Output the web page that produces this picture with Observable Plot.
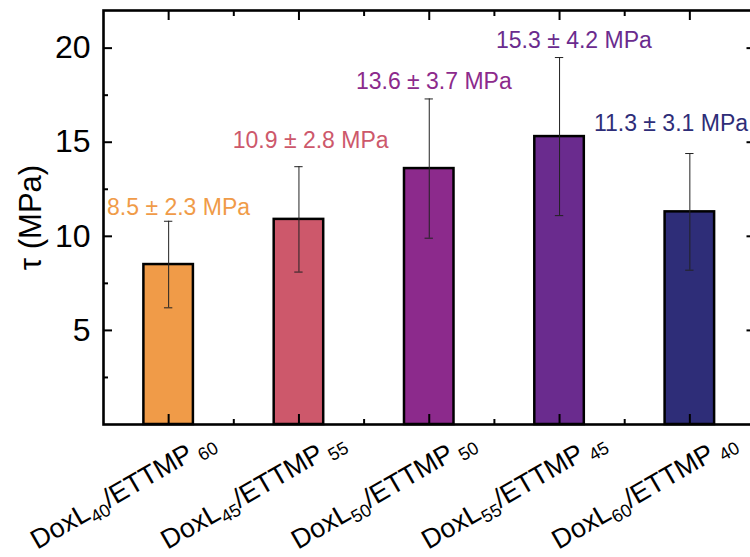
<!DOCTYPE html>
<html><head><meta charset="utf-8">
<script src="https://cdn.jsdelivr.net/npm/d3@7"></script>
<script src="https://cdn.jsdelivr.net/npm/@observablehq/plot@0.6"></script>
<style>html,body{margin:0;padding:0;background:#fff;overflow:hidden;}</style>
</head><body><div id="chart"></div>
<script>
// ---- data ----
const doxl = [40, 45, 50, 55, 60];
const ettmp = [60, 55, 50, 45, 40];
const tau = [8.5, 10.9, 13.6, 15.3, 11.3];
const sd = [2.3, 2.8, 3.7, 4.2, 3.1];
const colors = ["#F09B48", "#CD586B", "#8C2A8C", "#6A2B8E", "#2E2D78"];
const yTicks = [5, 10, 15, 20];
const yMinor = [2.5, 7.5, 12.5, 17.5];
const xTicks = [1, 2, 3, 4, 5];
const xMinor = [1.5, 2.5, 3.5, 4.5];

const data = tau.map((v, i) => ({
  idx: i + 1,
  cat: `DoxL${doxl[i]}/ETTMP${ettmp[i]}`,
  tau: v, sd: sd[i], color: colors[i],
  label: `${v.toFixed(1)} ± ${sd[i].toFixed(1)} MPa`
}));
// annotation anchors (x in category index units, y in MPa)
const annX = [1.076, 2.09, 3.035, 4.11, 4.855];
const annY = [11.5, 15.1, 18.2, 20.4, 16.0];
const ann = data.map((d, i) => ({...d, ax: annX[i], ay: annY[i]}));

const tk = {stroke: "black", strokeWidth: 2, fill: "none", label: null};
const font = "'Liberation Sans', Arial, Helvetica, sans-serif";

const plot = Plot.plot({
  width: 750, height: 557,
  marginLeft: 103, marginRight: -4.5, marginTop: 10, marginBottom: 133,
  style: {fontFamily: font, background: "white", color: "black"},
  x: {domain: [0.5, 5.5], axis: null},
  y: {domain: [0, 22], axis: null},
  color: {type: "identity"},
  marks: [
    Plot.rectY(data, {x1: d => d.idx - 0.19, x2: d => d.idx + 0.19, y1: 0, y2: "tau", fill: "color", stroke: "black", strokeWidth: 2.5}),
    Plot.ruleX(data, {x: "idx", y1: d => d.tau - d.sd, y2: d => d.tau + d.sd, stroke: "#222", strokeWidth: 1}),
    Plot.ruleY(data, {y: d => d.tau + d.sd, x1: d => d.idx - 0.032, x2: d => d.idx + 0.032, stroke: "#222", strokeWidth: 1}),
    Plot.ruleY(data, {y: d => d.tau - d.sd, x1: d => d.idx - 0.032, x2: d => d.idx + 0.032, stroke: "#222", strokeWidth: 1}),
    Plot.axisY(yTicks, {anchor: "left", tickSize: -9, ...tk}),
    Plot.axisY(yMinor, {anchor: "left", tickSize: -5, ...tk}),
    Plot.axisY(yTicks, {anchor: "right", tickSize: -9, ...tk}),
    Plot.axisY(yMinor, {anchor: "right", tickSize: -5, ...tk}),
    Plot.axisX(xTicks, {anchor: "bottom", tickSize: -10, ...tk}),
    Plot.axisX(xMinor, {anchor: "bottom", tickSize: -5, ...tk}),
    Plot.axisX(xTicks, {anchor: "top", tickSize: -9, ...tk}),
    Plot.axisX(xMinor, {anchor: "top", tickSize: -5, ...tk}),
    Plot.axisY(yTicks, {anchor: "left", tickSize: 0, tickPadding: 13, fontSize: 32, fill: "black", label: null}),
    Plot.frame({stroke: "black", strokeWidth: 2.6}),
    Plot.text(["τ (MPa)"], {frameAnchor: "left", textAnchor: "middle", lineAnchor: "middle", rotate: -90, dx: -72, dy: 0, fontSize: 31, fill: "black"}),
    Plot.text(ann, {x: "ax", y: "ay", text: "label", fill: "color", fontSize: 23}),
    Plot.text(data, {x: "idx", text: "cat", frameAnchor: "bottom", lineAnchor: "middle", textAnchor: "middle", rotate: -30, dx: -46, dy: 66, fontSize: 27, fill: "black"})
  ]
});

// subscripts in the category labels
d3.select(plot).selectAll("text").each(function () {
  const m = /^DoxL(\d+)\/ETTMP(\d+)$/.exec(this.textContent);
  if (!m) return;
  const s = d3.select(this);
  s.text(null);
  s.append("tspan").text("DoxL");
  s.append("tspan").attr("dy", 6).attr("font-size", 18).text(m[1]);
  s.append("tspan").attr("dy", -6).text("/ETTMP");
  s.append("tspan").attr("dy", 6).attr("dx", 5).attr("font-size", 18).text(m[2]);
});

document.getElementById("chart").append(plot);
</script>
</body></html>
